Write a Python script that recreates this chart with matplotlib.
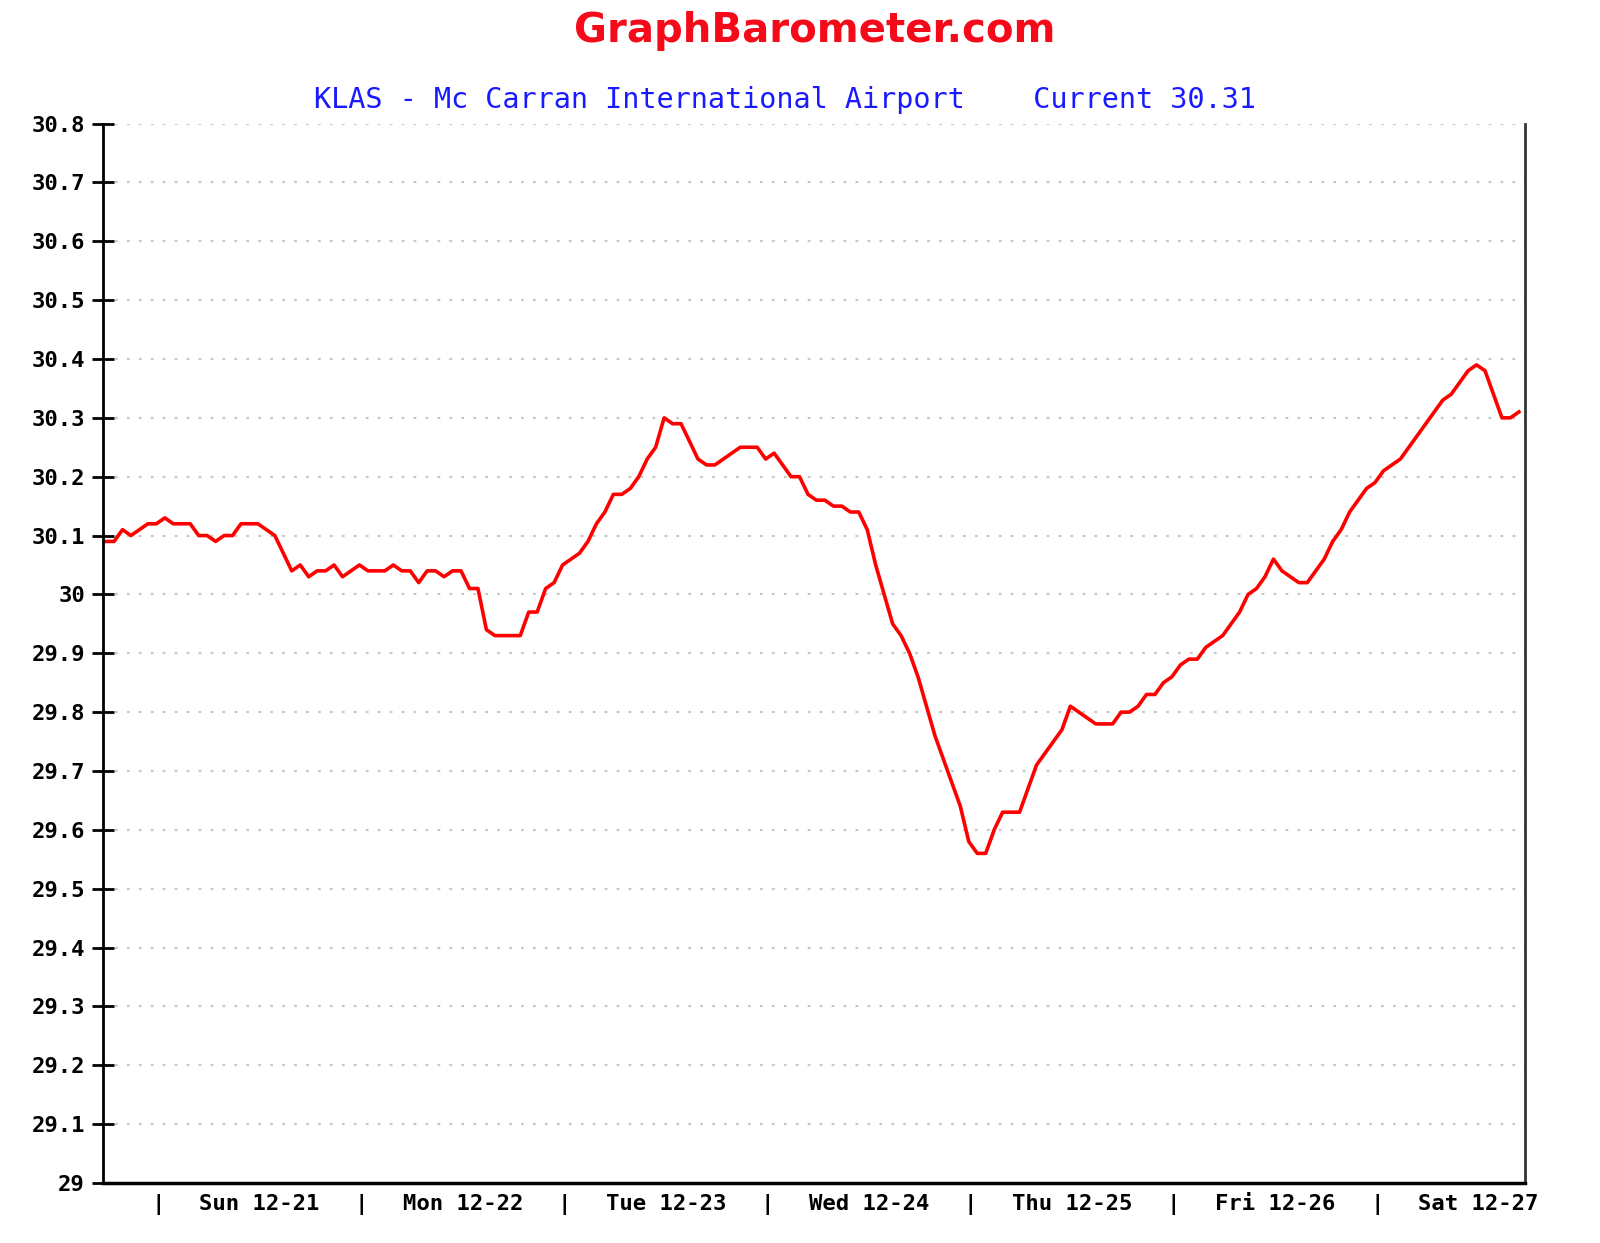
import matplotlib
matplotlib.use("Agg")
import matplotlib.pyplot as plt
import numpy as np

# hourly pressure readings (inHg), Sat evening 12-20 through Sat evening 12-27
pressure = [
    30.09, 30.09, 30.11, 30.10, 30.11, 30.12, 30.12, 30.13, 30.12, 30.12,
    30.12, 30.10, 30.10, 30.09, 30.10, 30.10, 30.12, 30.12, 30.12, 30.11,
    30.10, 30.07, 30.04, 30.05, 30.03, 30.04, 30.04, 30.05, 30.03, 30.04,
    30.05, 30.04, 30.04, 30.04, 30.05, 30.04, 30.04, 30.02, 30.04, 30.04,
    30.03, 30.04, 30.04, 30.01, 30.01, 29.94, 29.93, 29.93, 29.93, 29.93,
    29.97, 29.97, 30.01, 30.02, 30.05, 30.06, 30.07, 30.09, 30.12, 30.14,
    30.17, 30.17, 30.18, 30.20, 30.23, 30.25, 30.30, 30.29, 30.29, 30.26,
    30.23, 30.22, 30.22, 30.23, 30.24, 30.25, 30.25, 30.25, 30.23, 30.24,
    30.22, 30.20, 30.20, 30.17, 30.16, 30.16, 30.15, 30.15, 30.14, 30.14,
    30.11, 30.05, 30.00, 29.95, 29.93, 29.90, 29.86, 29.81, 29.76, 29.72,
    29.68, 29.64, 29.58, 29.56, 29.56, 29.60, 29.63, 29.63, 29.63, 29.67,
    29.71, 29.73, 29.75, 29.77, 29.81, 29.80, 29.79, 29.78, 29.78, 29.78,
    29.80, 29.80, 29.81, 29.83, 29.83, 29.85, 29.86, 29.88, 29.89, 29.89,
    29.91, 29.92, 29.93, 29.95, 29.97, 30.00, 30.01, 30.03, 30.06, 30.04,
    30.03, 30.02, 30.02, 30.04, 30.06, 30.09, 30.11, 30.14, 30.16, 30.18,
    30.19, 30.21, 30.22, 30.23, 30.25, 30.27, 30.29, 30.31, 30.33, 30.34,
    30.36, 30.38, 30.39, 30.38, 30.34, 30.30, 30.30, 30.31,
]
hours = np.arange(len(pressure)) + 0.3

day_labels = ["Sun 12-21", "Mon 12-22", "Tue 12-23", "Wed 12-24",
              "Thu 12-25", "Fri 12-26", "Sat 12-27"]
first_midnight = 6.5  # hours after the start of the window
yticks = np.round(np.arange(29.0, 30.81, 0.1), 1)

plt.rcParams['lines.scale_dashes'] = False
mono = "DejaVu Sans Mono"

fig = plt.figure(figsize=(16, 12.43), dpi=100)
ax = fig.add_axes([0.0644, 0.0483, 0.953 - 0.0644, 0.9006 - 0.0483])

ax.plot(hours, pressure, color="#ff0000", lw=2.6, solid_joinstyle="round")

ax.set_xlim(0, 168)
ax.set_ylim(29.0, 30.8)

# gridlines
for v in yticks[1:]:
    ax.axhline(v, color="#c8c8c8", lw=1.6, ls=(0, (2.0, 6.6)), zorder=0)

ax.set_yticks(yticks)
ax.set_yticklabels([f"{v:.1f}".rstrip("0").rstrip(".") for v in yticks],
                   fontfamily=mono, fontweight="bold", fontsize=16)
ax.tick_params(axis="y", direction="inout", length=16, width=2, pad=5)

# x axis: "|" at midnights, day names at noon
xt, xl = [], []
for k, lab in enumerate(day_labels):
    xt += [first_midnight + 24 * k, first_midnight + 12 + 24 * k]
    xl += ["|", lab]
ax.set_xticks(xt)
ax.set_xticklabels(xl, fontfamily=mono, fontweight="bold", fontsize=16)
ax.tick_params(axis="x", length=0, pad=8)

ax.spines["top"].set_visible(False)
ax.spines["left"].set_linewidth(2)
ax.spines["bottom"].set_linewidth(2.5)
ax.spines["right"].set_linewidth(2)
ax.spines["right"].set_color("#333333")

fig.text(0.509, 0.975, "GraphBarometer.com", color="#f50a1a", fontsize=29,
         fontweight="bold", ha="center", va="center", fontfamily="DejaVu Sans")
fig.text(0.4906, 0.9195,
         "KLAS - Mc Carran International Airport    Current 30.31",
         color="#1a1aff", fontsize=20.5, ha="center", va="center",
         fontfamily=mono)

fig.savefig("out.png", dpi=100, facecolor="white")
